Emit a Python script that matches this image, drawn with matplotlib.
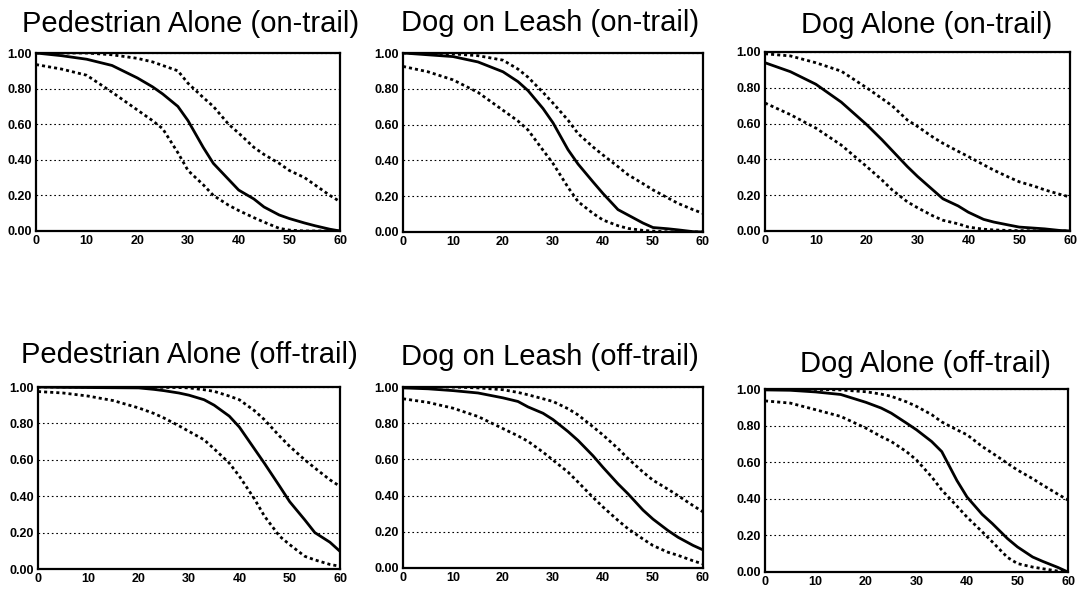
import matplotlib
matplotlib.use("Agg")
import matplotlib.pyplot as plt

plt.rcParams['font.family'] = ['Liberation Sans', 'DejaVu Sans']

# time in minutes (x axis), shared by all curves
minutes = [0, 5, 10, 15, 20, 23, 25, 28, 30, 33, 35, 38, 40, 43, 45, 48, 50, 53, 55, 58, 60]

titles = ["Pedestrian Alone (on-trail)", "Dog on Leash (on-trail)", "Dog Alone (on-trail)",
          "Pedestrian Alone (off-trail)", "Dog on Leash (off-trail)", "Dog Alone (off-trail)"]

# Pedestrian Alone (on-trail)
pa_on = [1.0, 0.985, 0.965, 0.93, 0.86, 0.81, 0.77, 0.70, 0.62, 0.47, 0.38, 0.29, 0.23, 0.18, 0.135, 0.09, 0.07, 0.045, 0.03, 0.01, 0.0]
pa_on_hi = [1.0, 1.0, 1.0, 0.99, 0.97, 0.95, 0.93, 0.90, 0.83, 0.75, 0.70, 0.60, 0.55, 0.47, 0.43, 0.38, 0.34, 0.30, 0.26, 0.20, 0.165]
pa_on_lo = [0.935, 0.91, 0.875, 0.78, 0.68, 0.62, 0.575, 0.44, 0.34, 0.26, 0.20, 0.145, 0.115, 0.075, 0.05, 0.015, 0.005, 0.0, 0.0, 0.0, 0.0]

# Dog on Leash (on-trail)
dl_on = [1.0, 0.99, 0.98, 0.95, 0.895, 0.84, 0.79, 0.69, 0.61, 0.46, 0.38, 0.28, 0.215, 0.125, 0.095, 0.05, 0.025, 0.018, 0.012, 0.002, 0.0]
dl_on_hi = [1.0, 1.0, 0.995, 0.985, 0.96, 0.91, 0.865, 0.78, 0.72, 0.625, 0.55, 0.475, 0.43, 0.365, 0.32, 0.27, 0.235, 0.19, 0.16, 0.125, 0.104]
dl_on_lo = [0.925, 0.895, 0.85, 0.78, 0.68, 0.62, 0.57, 0.457, 0.383, 0.25, 0.17, 0.104, 0.067, 0.035, 0.02, 0.009, 0.005, 0.001, 0.0, 0.0, 0.0]

# Dog Alone (on-trail)
da_on = [0.94, 0.89, 0.82, 0.72, 0.594, 0.51, 0.45, 0.36, 0.305, 0.23, 0.18, 0.14, 0.105, 0.065, 0.05, 0.033, 0.022, 0.016, 0.012, 0.003, 0.0]
da_on_hi = [0.99, 0.978, 0.94, 0.893, 0.80, 0.74, 0.70, 0.62, 0.584, 0.525, 0.49, 0.445, 0.416, 0.37, 0.34, 0.30, 0.275, 0.25, 0.23, 0.205, 0.19]
da_on_lo = [0.715, 0.65, 0.575, 0.48, 0.36, 0.285, 0.23, 0.163, 0.13, 0.085, 0.06, 0.04, 0.022, 0.01, 0.006, 0.003, 0.002, 0.001, 0.0, 0.0, 0.0]

# Pedestrian Alone (off-trail)
pa_off = [1.0, 0.998, 0.997, 0.996, 0.995, 0.987, 0.98, 0.967, 0.955, 0.93, 0.90, 0.84, 0.78, 0.66, 0.58, 0.455, 0.37, 0.27, 0.20, 0.147, 0.097]
pa_off_hi = [1.0, 1.0, 1.0, 1.0, 1.0, 0.999, 0.998, 0.997, 0.995, 0.985, 0.976, 0.95, 0.93, 0.87, 0.82, 0.73, 0.674, 0.60, 0.555, 0.49, 0.454]
pa_off_lo = [0.975, 0.967, 0.95, 0.925, 0.885, 0.855, 0.83, 0.787, 0.756, 0.71, 0.66, 0.582, 0.51, 0.385, 0.29, 0.18, 0.134, 0.07, 0.05, 0.025, 0.015]

# Dog on Leash (off-trail)
dl_off = [0.995, 0.99, 0.98, 0.967, 0.94, 0.92, 0.89, 0.855, 0.82, 0.754, 0.705, 0.62, 0.556, 0.465, 0.41, 0.32, 0.27, 0.207, 0.17, 0.125, 0.10]
dl_off_hi = [1.0, 1.0, 1.0, 0.995, 0.985, 0.97, 0.957, 0.935, 0.92, 0.88, 0.846, 0.78, 0.735, 0.66, 0.605, 0.53, 0.485, 0.435, 0.40, 0.345, 0.31]
dl_off_lo = [0.935, 0.915, 0.883, 0.837, 0.77, 0.73, 0.70, 0.64, 0.596, 0.53, 0.475, 0.39, 0.337, 0.263, 0.217, 0.16, 0.124, 0.087, 0.07, 0.04, 0.022]

# Dog Alone (off-trail)
da_off = [0.995, 0.993, 0.984, 0.97, 0.927, 0.896, 0.868, 0.814, 0.777, 0.713, 0.658, 0.50, 0.41, 0.315, 0.265, 0.183, 0.137, 0.082, 0.058, 0.025, 0.0]
da_off_hi = [1.0, 1.0, 0.998, 0.995, 0.985, 0.972, 0.96, 0.93, 0.905, 0.86, 0.82, 0.777, 0.75, 0.686, 0.65, 0.594, 0.557, 0.51, 0.475, 0.425, 0.393]
da_off_lo = [0.935, 0.923, 0.887, 0.85, 0.786, 0.74, 0.713, 0.658, 0.612, 0.52, 0.448, 0.36, 0.30, 0.22, 0.165, 0.08, 0.046, 0.027, 0.018, 0.005, 0.0]

panels = [(pa_on, pa_on_hi, pa_on_lo), (dl_on, dl_on_hi, dl_on_lo), (da_on, da_on_hi, da_on_lo),
          (pa_off, pa_off_hi, pa_off_lo), (dl_off, dl_off_hi, dl_off_lo), (da_off, da_off_hi, da_off_lo)]

W, H = 1083, 592
# axes boxes in pixels: left, top, right, bottom
boxes = [(36, 53, 340, 231), (403, 53, 703, 232), (765, 52, 1070, 231),
         (38, 387, 340, 569), (403, 387, 703, 568), (765, 389, 1068, 572)]
title_pads = [15, 16, 14, 17, 16, 12]
# title centre, as a fraction of axes width
title_x = [0.51, 0.49, 0.53, 0.5, 0.49, 0.53]

fig = plt.figure(figsize=(W / 100, H / 100), dpi=100)

for i, (mid, hi, lo) in enumerate(panels):
    l, t, r, b = boxes[i]
    ax = fig.add_axes([l / W, 1 - b / H, (r - l) / W, (b - t) / H])
    ax.plot(minutes, hi, color='black', lw=2.0, linestyle=(0, (1.1, 1.1)))
    ax.plot(minutes, lo, color='black', lw=2.0, linestyle=(0, (1.1, 1.1)))
    ax.plot(minutes, mid, color='black', lw=2.0)
    ax.set_xlim(0, 60)
    ax.set_ylim(0, 1)
    ax.set_xticks(range(0, 61, 10))
    ax.set_yticks([0, 0.2, 0.4, 0.6, 0.8, 1.0])
    ax.set_yticklabels([f"{v:.2f}" for v in [0, 0.2, 0.4, 0.6, 0.8, 1.0]])
    ax.yaxis.grid(True, color='black', lw=0.8, linestyle=(0, (1.5, 2.5)))
    ax.tick_params(length=0, labelsize=9, pad=3)
    for lab in ax.get_xticklabels() + ax.get_yticklabels():
        lab.set_fontweight('bold')
    for s in ax.spines.values():
        s.set_linewidth(1.6)
    ax.set_title(titles[i], fontsize=21, pad=title_pads[i], x=title_x[i])

fig.savefig("out.png", dpi=100)
